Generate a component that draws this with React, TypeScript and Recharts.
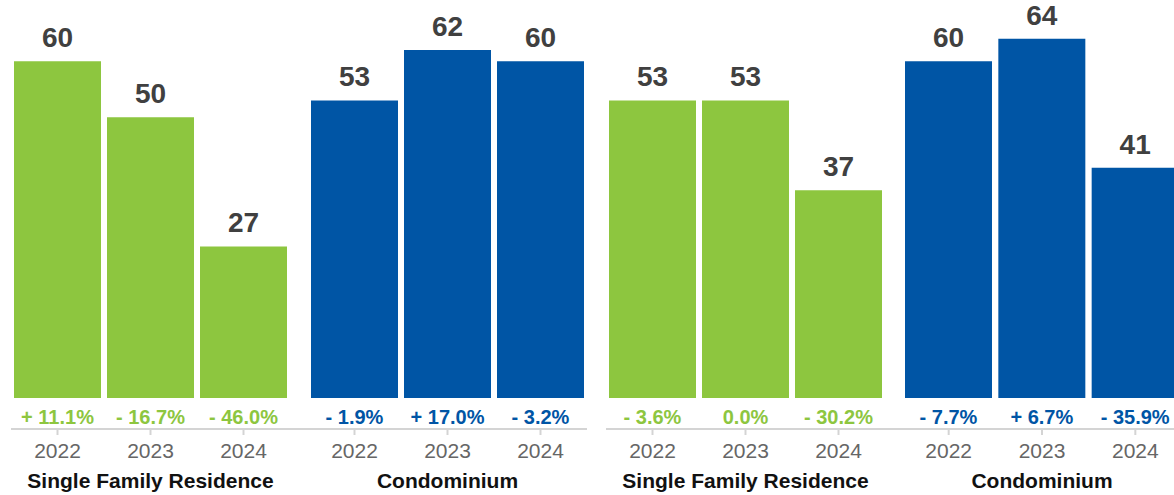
import React from 'react';
import { BarChart, Bar, XAxis, YAxis, LabelList } from 'recharts';

const years = ['2022', '2023', '2024'];
const groupLabels = ['Single Family Residence', 'Condominium', 'Single Family Residence', 'Condominium'];
const sfrA = [60, 50, 27];
const condoA = [53, 62, 60];
const sfrB = [53, 53, 37];
const condoB = [60, 64, 41];
const sfrAPct = ['+ 11.1%', '- 16.7%', '- 46.0%'];
const condoAPct = ['- 1.9%', '+ 17.0%', '- 3.2%'];
const sfrBPct = ['- 3.6%', '0.0%', '- 30.2%'];
const condoBPct = ['- 7.7%', '+ 6.7%', '- 35.9%'];

const GREEN = '#8DC63F';
const BLUE = '#0055A5';
const FONT = '"Liberation Sans", Arial, Helvetica, sans-serif';

const H = 495;
const AXIS_H = 66;
const DOMAIN: [number, number] = [-5.54, 70.9];

type GroupProps = {
  left: number;
  width: number;
  padLeft: number;
  padRight: number;
  values: number[];
  pcts: string[];
  color: string;
  label: string;
};

function Group({ left, width, padLeft, padRight, values, pcts, color, label }: GroupProps) {
  const data = years.map((y, i) => ({ year: y, value: values[i], pct: pcts[i] }));

  const Tick = (props: any) => {
    const { x, y, payload, index } = props;
    return (
      <g>
        <text x={x} y={y} dy={21} textAnchor="middle" fill="#666666" fontSize={21} fontFamily={FONT}>
          {payload.value}
        </text>
        {index === 1 && (
          <text x={x} y={y} dy={51} textAnchor="middle" fill="#111111" fontSize={21} fontWeight="bold" fontFamily={FONT}>
            {label}
          </text>
        )}
      </g>
    );
  };

  const TopLabel = (props: any) => {
    const { x, y, width: w, value } = props;
    return (
      <text x={x + w / 2} y={y - 14} textAnchor="middle" fill="#404040" fontSize={28} fontWeight="bold" fontFamily={FONT}>
        {value}
      </text>
    );
  };

  const PctLabel = (props: any) => {
    const { x, y, width: w, height: h, value } = props;
    return (
      <text x={x + w / 2} y={y + h + 26} textAnchor="middle" fill={color} fontSize={20} fontWeight="bold" fontFamily={FONT}>
        {value}
      </text>
    );
  };

  return (
    <div style={{ position: 'absolute', left, top: 0 }}>
      <BarChart width={width} height={H} data={data} margin={{ top: 0, right: 0, bottom: 0, left: 0 }}>
        <XAxis
          dataKey="year"
          height={AXIS_H}
          padding={{ left: padLeft, right: padRight }}
          axisLine={{ stroke: '#d4d4d4', strokeWidth: 2 }}
          tickLine={{ stroke: '#d4d4d4', strokeWidth: 2 }}
          tickSize={6}
          tickMargin={2}
          tick={<Tick />}
          interval={0}
        />
        <YAxis hide domain={DOMAIN} allowDataOverflow type="number" />
        <Bar dataKey="value" fill={color} barSize={87} isAnimationActive={false}>
          <LabelList dataKey="value" content={<TopLabel />} />
          <LabelList dataKey="pct" content={<PctLabel />} />
        </Bar>
      </BarChart>
    </div>
  );
}

export default function App() {
  return (
    <div style={{ position: 'absolute', left: 0, top: 0, width: 1174, height: H, overflow: 'hidden', background: '#fff' }}>
      <Group left={11} width={287} padLeft={0} padRight={8} values={sfrA} pcts={sfrAPct} color={GREEN} label={groupLabels[0]} />
      <Group left={298} width={289} padLeft={10} padRight={0} values={condoA} pcts={condoAPct} color={BLUE} label={groupLabels[1]} />
      <Group left={606} width={288} padLeft={0} padRight={9} values={sfrB} pcts={sfrBPct} color={GREEN} label={groupLabels[2]} />
      <Group left={894} width={288} padLeft={8} padRight={0} values={condoB} pcts={condoBPct} color={BLUE} label={groupLabels[3]} />
    </div>
  );
}
